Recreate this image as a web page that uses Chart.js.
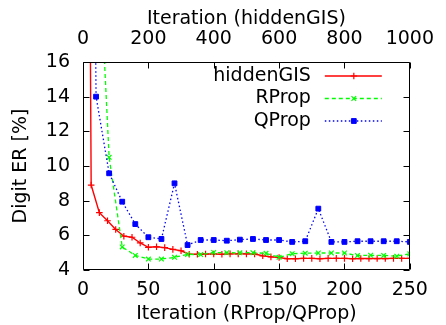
<!DOCTYPE html>
<html>
<head>
<meta charset="utf-8">
<script src="https://cdn.jsdelivr.net/npm/chart.js@4/dist/chart.umd.min.js"></script>
<style>
  body { margin: 0; background: #fff; }
  canvas { display: block; }
</style>
</head>
<body>
<canvas id="errChart" width="446" height="325"></canvas>
<script>
// RProp / QProp: bottom axis (iterations 0..250)
const propIter = [0, 10, 20, 30, 40, 50, 60, 70, 80, 90, 100, 110, 120, 130,
    140, 150, 160, 170, 180, 190, 200, 210, 220, 230, 240, 250];
const rpropErr = [90, 26, 10.5, 5.33, 4.84, 4.63, 4.63, 4.73, 4.9, 4.89, 5.01, 5.0, 4.99,
    5.0, 4.96, 4.73, 4.94, 4.97, 4.98, 4.98, 4.98, 4.83, 4.85, 4.84, 4.8, 4.93];
const qpropErr = [90, 14.0, 9.58, 7.94, 6.65, 5.89, 5.79, 9.0, 5.44, 5.73, 5.73, 5.69, 5.75,
    5.79, 5.73, 5.73, 5.62, 5.66, 7.54, 5.62, 5.62, 5.66, 5.66, 5.66, 5.66, 5.62];

// hiddenGIS: top axis (iterations 0..1000)
const gisIter = [0, 25, 50, 75, 100, 125, 150, 175, 200, 225, 250, 275, 300, 325, 350,
    375, 400, 425, 450, 475, 500, 525, 550, 575, 600, 625, 650, 675, 700, 725, 750,
    775, 800, 825, 850, 875, 900, 925, 950, 975, 1000];
const gisErr = [90, 8.9, 7.31, 6.84, 6.34, 5.95, 5.89, 5.56, 5.31, 5.34, 5.29, 5.19, 5.11,
    4.91, 4.91, 4.92, 4.92, 4.91, 4.93, 4.93, 4.93, 4.92, 4.82, 4.76, 4.72, 4.65, 4.65,
    4.67, 4.67, 4.65, 4.67, 4.67, 4.67, 4.65, 4.66, 4.66, 4.66, 4.66, 4.67, 4.67, 4.67];

const seriesNames = ['hiddenGIS', 'RProp', 'QProp'];

const FONT = { family: '"DejaVu Sans", sans-serif', size: 19 };
Chart.defaults.color = '#000';
Chart.defaults.font.family = FONT.family;
Chart.defaults.font.size = FONT.size;

const toPoints = (xs, ys) => xs.map((x, i) => ({ x: x, y: ys[i] }));
const plainTick = v => String(v);

// gnuplot-ish frame, inward ticks and legend inside the plot
const framePlugin = {
    id: 'frame',
    afterDraw(chart) {
        const { ctx, chartArea: a, scales } = chart;
        const L = Math.round(a.left) + 0.5, R = Math.round(a.right) - 0.5;
        const T = Math.round(a.top) + 0.5, B = Math.round(a.bottom) - 0.5;
        const tl = 6;
        ctx.save();
        ctx.strokeStyle = '#000';
        ctx.lineWidth = 1;
        ctx.setLineDash([]);
        ctx.beginPath();
        ctx.rect(L, T, R - L, B - T);
        scales.y.ticks.forEach(t => {
            const p = Math.round(scales.y.getPixelForValue(t.value)) + 0.5;
            ctx.moveTo(L, p); ctx.lineTo(L + tl, p);
            ctx.moveTo(R, p); ctx.lineTo(R - tl, p);
        });
        scales.x.ticks.forEach(t => {
            const p = Math.round(scales.x.getPixelForValue(t.value)) + 0.5;
            ctx.moveTo(p, B); ctx.lineTo(p, B - tl);
        });
        scales.x2.ticks.forEach(t => {
            const p = Math.round(scales.x2.getPixelForValue(t.value)) + 0.5;
            ctx.moveTo(p, T); ctx.lineTo(p, T + tl);
        });
        ctx.stroke();

        // legend
        ctx.font = FONT.size + 'px ' + FONT.family;
        ctx.textAlign = 'right';
        ctx.textBaseline = 'middle';
        chart.data.datasets.forEach((ds, i) => {
            const y = a.top + 14 + i * 22.5;
            const tx = a.right - 99;
            ctx.fillStyle = '#000';
            ctx.fillText(ds.label, tx, y);
            ctx.strokeStyle = ds.borderColor;
            ctx.lineWidth = ds.borderWidth;
            ctx.setLineDash(ds.borderDash || []);
            ctx.beginPath();
            ctx.moveTo(a.right - 85, y);
            ctx.lineTo(a.right - 28, y);
            ctx.stroke();
            ctx.setLineDash([]);
            ctx.lineWidth = ds.pointBorderWidth;
            ctx.fillStyle = ds.pointBackgroundColor;
            Chart.helpers.drawPoint(ctx, {
                pointStyle: ds.pointStyle, radius: ds.pointRadius,
                borderWidth: ds.pointBorderWidth, rotation: 0
            }, a.right - 56, y);
        });
        ctx.restore();
    }
};

const ctx = document.getElementById('errChart').getContext('2d');
new Chart(ctx, {
    type: 'line',
    data: {
        datasets: [{
            label: seriesNames[0],
            data: toPoints(gisIter, gisErr),
            xAxisID: 'x2',
            borderColor: '#ff0000',
            backgroundColor: '#ff0000',
            pointBackgroundColor: '#ff0000',
            borderWidth: 1.4,
            pointStyle: 'cross',
            pointRadius: 3.3,
            pointBorderWidth: 1.2,
            order: 3
        }, {
            label: seriesNames[1],
            data: toPoints(propIter, rpropErr),
            xAxisID: 'x',
            borderColor: '#00ff00',
            backgroundColor: '#00ff00',
            pointBackgroundColor: '#00ff00',
            borderWidth: 1.3,
            borderDash: [4, 3],
            pointStyle: 'crossRot',
            pointRadius: 3.3,
            pointBorderWidth: 1.2,
            order: 2
        }, {
            label: seriesNames[2],
            data: toPoints(propIter, qpropErr),
            xAxisID: 'x',
            borderColor: '#0000ff',
            backgroundColor: '#0000ff',
            pointBackgroundColor: '#0000ff',
            borderWidth: 1.3,
            borderDash: [1.5, 2.5],
            pointStyle: 'rect',
            pointRadius: 3.4,
            pointBorderWidth: 1,
            order: 1
        }]
    },
    options: {
        responsive: false,
        animation: false,
        layout: { padding: { left: 0, right: 29, top: 0, bottom: 0 } },
        plugins: { legend: { display: false }, tooltip: { enabled: false } },
        elements: { line: { tension: 0, fill: false } },
        scales: {
            x: {
                type: 'linear', position: 'bottom', min: 0, max: 250,
                ticks: { stepSize: 50, padding: 9, maxRotation: 0, callback: plainTick },
                grid: { display: false, drawTicks: false },
                border: { display: false },
                title: { display: true, text: 'Iteration (RProp/QProp)', padding: { top: 0, bottom: 0 } },
                afterFit: s => { s.height = 55; }
            },
            x2: {
                type: 'linear', position: 'top', min: 0, max: 1000,
                ticks: { stepSize: 200, padding: 12, maxRotation: 0, callback: plainTick },
                grid: { display: false, drawTicks: false },
                border: { display: false },
                title: { display: true, text: 'Iteration (hiddenGIS)', padding: { top: 8, bottom: 0 } },
                afterFit: s => { s.height = 62; }
            },
            y: {
                type: 'linear', position: 'left', min: 4, max: 16,
                ticks: { stepSize: 2, padding: 13, callback: plainTick },
                grid: { display: false, drawTicks: false },
                border: { display: false },
                title: { display: true, text: 'Digit ER [%]', padding: { top: 10, bottom: 0 } },
                afterFit: s => { s.width = 83; }
            }
        }
    },
    plugins: [framePlugin]
});
</script>
</body>
</html>
